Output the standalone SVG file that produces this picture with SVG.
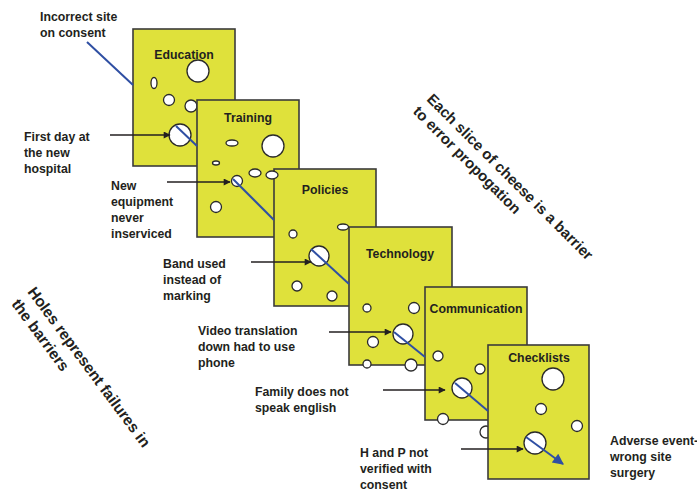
<svg xmlns="http://www.w3.org/2000/svg" width="697" height="491" viewBox="0 0 697 491">
  <defs>
    <style>
      .slice { fill: #dfe13b; stroke: #3b3b3b; stroke-width: 1.6; }
      .hole { fill: #ffffff; stroke: #2a2a2a; stroke-width: 1.3; }
      .title { font-family: "Liberation Sans", Arial, sans-serif; font-weight: bold; font-size: 12.3px; fill: #231f20; text-anchor: middle; }
      .label { font-family: "Liberation Sans", Arial, sans-serif; font-weight: bold; font-size: 12.3px; fill: #231f20; }
      .note { font-family: "Liberation Sans", Arial, sans-serif; font-weight: bold; font-size: 15px; fill: #231f20; }
      .path { stroke: #2f4fa3; stroke-width: 2; fill: none; }
      .pointer { stroke: #231f20; stroke-width: 1.3; fill: none; marker-end: url(#tip); }
    </style>
    <marker id="tip" viewBox="0 0 10 10" refX="9" refY="5" markerWidth="8" markerHeight="7" markerUnits="userSpaceOnUse" orient="auto">
      <path d="M0,0 L10,5 L0,10 Z" fill="#231f20"/>
    </marker>
    <marker id="bluetip" viewBox="0 0 10 10" refX="9" refY="5" markerWidth="13" markerHeight="11" markerUnits="userSpaceOnUse" orient="auto">
      <path d="M0,0 L10,5 L0,10 Z" fill="#2f4fa3"/>
    </marker>
  </defs>

  <!-- Barrier slices, back to front -->
  <g id="education">
    <rect class="slice" x="133" y="29" width="102" height="137"/>
    <text class="title" x="184" y="59">Education</text>
    <circle class="hole" cx="198" cy="71" r="11"/>
    <ellipse class="hole" cx="154" cy="83" rx="3" ry="5.5"/>
    <circle class="hole" cx="169" cy="100" r="5.5"/>
    <circle class="hole" cx="191" cy="106" r="6"/>
    <circle class="hole" cx="180" cy="135" r="11"/>
  </g>

  <g id="training">
    <rect class="slice" x="197" y="100" width="102" height="137"/>
    <text class="title" x="248" y="122">Training</text>
    <ellipse class="hole" cx="232" cy="143" rx="6" ry="3"/>
    <circle class="hole" cx="273" cy="146" r="11"/>
    <ellipse class="hole" cx="216" cy="163" rx="3.5" ry="2"/>
    <ellipse class="hole" cx="255" cy="173" rx="6" ry="4"/>
    <circle class="hole" cx="237" cy="181" r="5.5"/>
    <circle class="hole" cx="216" cy="207" r="5.5"/>
  </g>

  <g id="policies">
    <rect class="slice" x="274" y="169" width="102" height="137"/>
    <ellipse class="hole" cx="272" cy="175" rx="6" ry="4"/>
    <text class="title" x="325" y="194">Policies</text>
    <circle class="hole" cx="293" cy="234" r="4"/>
    <circle class="hole" cx="319" cy="256" r="10"/>
    <circle class="hole" cx="297" cy="286" r="5"/>
    <circle class="hole" cx="332" cy="296" r="5"/>
  </g>

  <g id="technology">
    <rect class="slice" x="349" y="227" width="103" height="138"/>
    <ellipse class="hole" cx="343" cy="227" rx="5.5" ry="3"/>
    <text class="title" x="400" y="258">Technology</text>
    <circle class="hole" cx="367" cy="308" r="4"/>
    <circle class="hole" cx="414" cy="308" r="5.5"/>
    <circle class="hole" cx="403" cy="334" r="10"/>
    <circle class="hole" cx="373" cy="342" r="5.5"/>
    <circle class="hole" cx="367" cy="364" r="4"/>
    <circle class="hole" cx="411" cy="365" r="6"/>
  </g>

  <g id="communication">
    <rect class="slice" x="425" y="287" width="102" height="133"/>
    <text class="title" x="476" y="313">Communication</text>
    <circle class="hole" cx="438" cy="356" r="5"/>
    <circle class="hole" cx="480" cy="369" r="5"/>
    <circle class="hole" cx="462" cy="388" r="10"/>
    <circle class="hole" cx="443" cy="419" r="5.5"/>
    <circle class="hole" cx="486" cy="432" r="6"/>
  </g>

  <g id="checklists">
    <rect class="slice" x="488" y="345" width="101" height="134"/>
    <text class="title" x="539" y="362">Checklists</text>
    <circle class="hole" cx="553" cy="379" r="11"/>
    <circle class="hole" cx="541" cy="409" r="5.5"/>
    <circle class="hole" cx="577" cy="426" r="5.5"/>
    <circle class="hole" cx="535" cy="443" r="11"/>
  </g>

  <!-- Error trajectory (visible stretches) and failure pointers -->
  <g id="connectors">
    <line class="path" x1="87" y1="42" x2="133" y2="85"/>
    <line class="path" x1="176" y1="126" x2="197" y2="146"/>
    <line class="path" x1="233" y1="179" x2="274" y2="220"/>
    <line class="path" x1="311" y1="249" x2="349" y2="284"/>
    <line class="path" x1="394" y1="332" x2="425" y2="357"/>
    <line class="path" x1="455" y1="383" x2="488" y2="411"/>
    <line class="path" x1="526" y1="437" x2="563" y2="464" marker-end="url(#bluetip)"/>

    <line class="pointer" x1="110" y1="135" x2="170" y2="135"/>
    <line class="pointer" x1="167" y1="182" x2="230" y2="182"/>
    <line class="pointer" x1="251" y1="262" x2="311" y2="262"/>
    <line class="pointer" x1="329" y1="332" x2="391" y2="332"/>
    <line class="pointer" x1="383" y1="390" x2="445" y2="390"/>
    <line class="pointer" x1="461" y1="449" x2="523" y2="449"/>
  </g>

  <!-- Failure labels -->
  <g id="labels">
    <text class="label" x="40" y="21">Incorrect site</text>
    <text class="label" x="40" y="37">on consent</text>

    <text class="label" x="24" y="141">First day at</text>
    <text class="label" x="24" y="157">the new</text>
    <text class="label" x="24" y="173">hospital</text>

    <text class="label" x="111" y="190">New</text>
    <text class="label" x="111" y="206">equipment</text>
    <text class="label" x="111" y="222">never</text>
    <text class="label" x="111" y="238">inserviced</text>

    <text class="label" x="163" y="268">Band used</text>
    <text class="label" x="163" y="284">instead of</text>
    <text class="label" x="163" y="300">marking</text>

    <text class="label" x="198" y="335">Video translation</text>
    <text class="label" x="198" y="351">down had to use</text>
    <text class="label" x="198" y="367">phone</text>

    <text class="label" x="255" y="396">Family does not</text>
    <text class="label" x="255" y="412">speak english</text>

    <text class="label" x="360" y="457">H and P not</text>
    <text class="label" x="360" y="473">verified with</text>
    <text class="label" x="360" y="488.5">consent</text>

    <text class="label" x="610" y="445">Adverse event-</text>
    <text class="label" x="610" y="461">wrong site</text>
    <text class="label" x="610" y="477">surgery</text>
  </g>

  <!-- Explanatory notes -->
  <g id="note-barrier" transform="translate(426,100) rotate(45)">
    <text class="note" x="0" y="0">Each slice of cheese is a barrier</text>
    <text class="note" x="-1" y="18.5">to error propogation</text>
  </g>
  <g id="note-holes" transform="translate(27,292) rotate(53.5)">
    <text class="note" x="0" y="0" style="font-size:15.5px">Holes represent failures in</text>
    <text class="note" x="0" y="20" style="font-size:15.5px">the barriers</text>
  </g>
</svg>
